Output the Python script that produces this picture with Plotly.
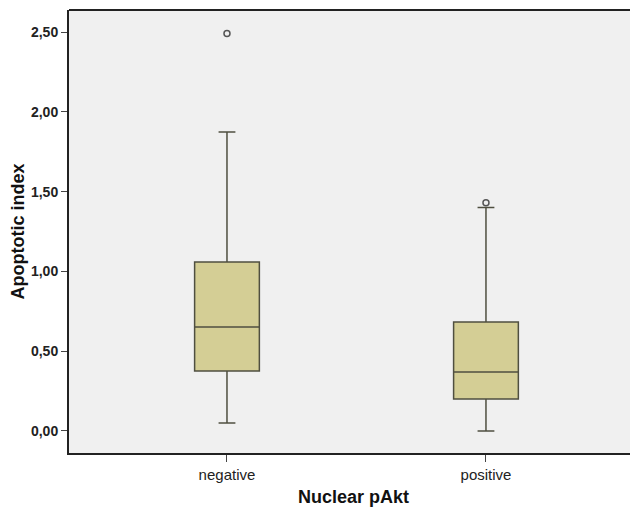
import plotly.graph_objects as go

categories = ["negative", "positive"]
q1 = [0.376, 0.20]
median = [0.652, 0.370]
q3 = [1.059, 0.683]
lower_whisker = [0.05, 0.0]
upper_whisker = [1.873, 1.40]
outlier_cat = ["negative", "positive"]
outlier_val = [2.49, 1.43]
y_ticks = [0.0, 0.5, 1.0, 1.5, 2.0, 2.5]

fig = go.Figure()
fig.add_trace(go.Box(
    x=categories, q1=q1, median=median, q3=q3,
    lowerfence=lower_whisker, upperfence=upper_whisker,
    width=0.25, whiskerwidth=0.26,
    fillcolor="#d4ce95", line=dict(color="#4f4f40", width=1.5),
    boxpoints=False, showlegend=False, hoverinfo="y",
))
fig.add_trace(go.Scatter(
    x=outlier_cat, y=outlier_val, mode="markers",
    marker=dict(symbol="circle-open", size=6, color="#555555", line=dict(width=1.5)),
    showlegend=False,
))

# page body has an 8px default margin, so the figure is sized/offset to compensate
fig.update_layout(
    width=630, height=499,
    margin=dict(l=61, r=0, t=2, b=54),
    paper_bgcolor="white", plot_bgcolor="#f0f0f0",
    separators=",.",
    font=dict(family="Liberation Sans, Arial, sans-serif", color="#222222"),
    xaxis=dict(
        type="category", range=[-0.61, 1.587], automargin=False,
        showline=True, linecolor="#222222", linewidth=2, mirror=False,
        ticks="outside", ticklen=7, tickcolor="#444444",
        tickfont=dict(size=15, color="#222222"),
        showgrid=False, zeroline=False,
        title=dict(text="Nuclear pAkt", font=dict(size=18, color="#111111", weight="bold"), standoff=9),
    ),
    yaxis=dict(
        range=[-0.138, 2.638], tickvals=y_ticks, tickformat=".2f", automargin=False,
        showline=True, linecolor="#222222", linewidth=2,
        ticks="outside", ticklen=6, tickcolor="#444444",
        tickfont=dict(size=14, color="#222222", weight="bold"),
        showgrid=False, zeroline=False,
        title=dict(text="Apoptotic index", font=dict(size=18, color="#111111", weight="bold"), standoff=5),
    ),
    shapes=[dict(type="line", xref="paper", yref="paper", x0=0, x1=1, y0=1, y1=1,
                 line=dict(color="#222222", width=2))],
)

fig.write_html("out.html")
